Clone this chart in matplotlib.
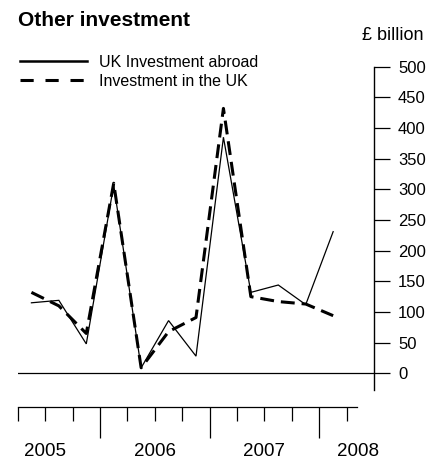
import matplotlib
matplotlib.use("Agg")
import matplotlib.pyplot as plt
from matplotlib.lines import Line2D
import matplotlib.transforms as mtransforms

plt.rcParams['font.family'] = ['Liberation Sans', 'DejaVu Sans']
plt.rcParams['lines.scale_dashes'] = False

# Quarterly data, 2005 Q1 .. 2007 Q4 (GBP billion)
quarters = list(range(12))
uk_abroad = [115, 119, 48, 307, 9, 86, 28, 385, 132, 144, 112, 231]
in_uk = [132, 110, 65, 310, 9, 68, 91, 432, 125, 117, 113, 94]
yticks = [0, 50, 100, 150, 200, 250, 300, 350, 400, 450, 500]
year_labels = ['2005', '2006', '2007', '2008']
year_pos = [1, 5, 9, 12.4]
long_ticks = [3, 7, 11]
short_ticks = [0, 1, 2, 4, 5, 6, 8, 9, 10, 12]

W, H = 430, 459
fig = plt.figure(figsize=(W / 100, H / 100), dpi=100)

# main axes
left = 17.7 / W
right = 374.3 / W
bot = 1 - 390 / H
top = 1 - 66.7 / H
ax = fig.add_axes([left, bot, right - left, top - bot])
ax.set_xlim(0, 13)
ax.set_ylim(-27.2, 500)
for s in ['left', 'top', 'bottom']:
    ax.spines[s].set_visible(False)
ax.spines['right'].set_linewidth(1.0)
ax.yaxis.tick_right()
ax.set_yticks(yticks)
ax.set_yticklabels([str(v) for v in yticks], fontsize=12)
ax.tick_params(axis='y', direction='out', length=11.5, width=0.9, pad=5.5)
ax.set_xticks([])
ax.axhline(0, color='black', lw=0.9)

xs = [q + 0.5 for q in quarters]
ax.plot(xs, uk_abroad, color='black', lw=0.9, solid_joinstyle='miter')
ax.plot(xs, in_uk, color='black', lw=2.2, dashes=(10, 5))

# bottom time axis
ax2_top = 1 - 406.7 / H
ax2 = fig.add_axes([left, 0.02, (357.3 - 17.7) / W, ax2_top - 0.02])
ax2.set_xlim(0, 339.6 / 27.42)
ax2.patch.set_visible(False)
for s in ['left', 'right', 'bottom']:
    ax2.spines[s].set_visible(False)
ax2.spines['top'].set_linewidth(0.9)
ax2.xaxis.tick_top()
ax2.set_yticks([])
ax2.set_xticks(long_ticks)
ax2.set_xticks(short_ticks, minor=True)
ax2.set_xticklabels([])
ax2.tick_params(axis='x', which='major', direction='in', length=22.3, width=0.9)
ax2.tick_params(axis='x', which='minor', direction='in', length=10, width=0.9)
trans = mtransforms.blended_transform_factory(ax2.transData, fig.transFigure)
for lab, p in zip(year_labels, year_pos):
    ax2.text(p, 1 - 451.7 / H, lab, transform=trans, ha='center', va='center', fontsize=13.5)

# titles
fig.text(18 / W, 1 - 20 / H, 'Other investment', fontsize=15, fontweight='bold', ha='left', va='center')
fig.text(423 / W, 1 - 35 / H, '£ billion', fontsize=13, ha='right', va='center')

# legend
handles = [Line2D([], [], color='black', lw=1.8),
           Line2D([], [], color='black', lw=2.2, dashes=(9.5, 8.5))]
fig.legend(handles, ['UK Investment abroad', 'Investment in the UK'],
           loc='upper left', bbox_to_anchor=(20 / W, 1 - 55 / H), frameon=False,
           fontsize=11.5, handlelength=4.2, handletextpad=0.75, labelspacing=0.25,
           borderpad=0, borderaxespad=0)

fig.savefig('out.png', dpi=100)
